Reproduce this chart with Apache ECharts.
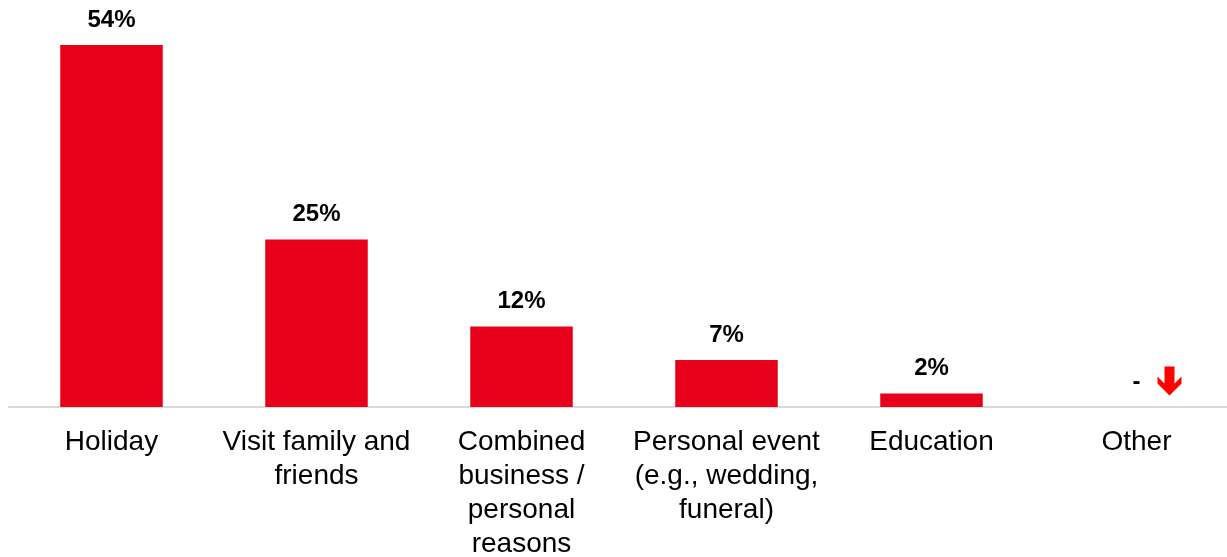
<!DOCTYPE html>
<html>
<head>
<meta charset="utf-8">
<script src="https://cdn.jsdelivr.net/npm/echarts@6/dist/echarts.min.js"></script>
<style>
html,body{margin:0;padding:0;background:#fff;}
#chart{width:1227px;height:557px;}
</style>
</head>
<body>
<div id="chart"></div>
<script>
var categories = ['Holiday', 'Visit family and\nfriends', 'Combined\nbusiness /\npersonal\nreasons', 'Personal event\n(e.g., wedding,\nfuneral)', 'Education', 'Other'];
var values = [54, 25, 12, 7, 2, 0];
var valueLabels = ['54%', '25%', '12%', '7%', '2%', '-'];
var arrowCategory = 'Other';

var FONT = 'Arial, "Liberation Sans", sans-serif';
var chart = echarts.init(document.getElementById('chart'), null, {renderer: 'canvas'});
chart.setOption({
  animation: false,
  backgroundColor: '#ffffff',
  grid: {left: 9, top: 45, width: 1230, height: 362, containLabel: false, outerBoundsMode: 'none'},
  xAxis: {
    type: 'category',
    data: categories,
    axisLine: {show: true, lineStyle: {color: '#d9d9d9', width: 2}},
    axisTick: {show: false},
    axisLabel: {
      interval: 0, margin: 18, color: '#000', fontFamily: FONT, fontSize: 28, lineHeight: 34
    }
  },
  yAxis: {type: 'value', min: 0, max: 54, show: false, splitLine: {show: false}},
  series: [{
    type: 'bar',
    data: values,
    barWidth: '50%',
    itemStyle: {color: '#E60019'},
    label: {
      show: true, position: 'top', distance: 13,
      fontFamily: FONT, fontSize: 24, fontWeight: 'bold', color: '#000',
      formatter: function (p) { return valueLabels[p.dataIndex]; }
    },
    markPoint: {
      silent: true,
      symbol: 'path://M7,0 L17,0 L17,17 L24,10 L24,17 L12,29 L0,17 L0,10 L7,17 Z',
      symbolSize: [24, 29],
      symbolKeepAspect: false,
      symbolOffset: [33, -26],
      itemStyle: {color: '#FF0000'},
      label: {show: false},
      data: [{coord: [arrowCategory, 0]}]
    }
  }]
});
</script>
</body>
</html>
